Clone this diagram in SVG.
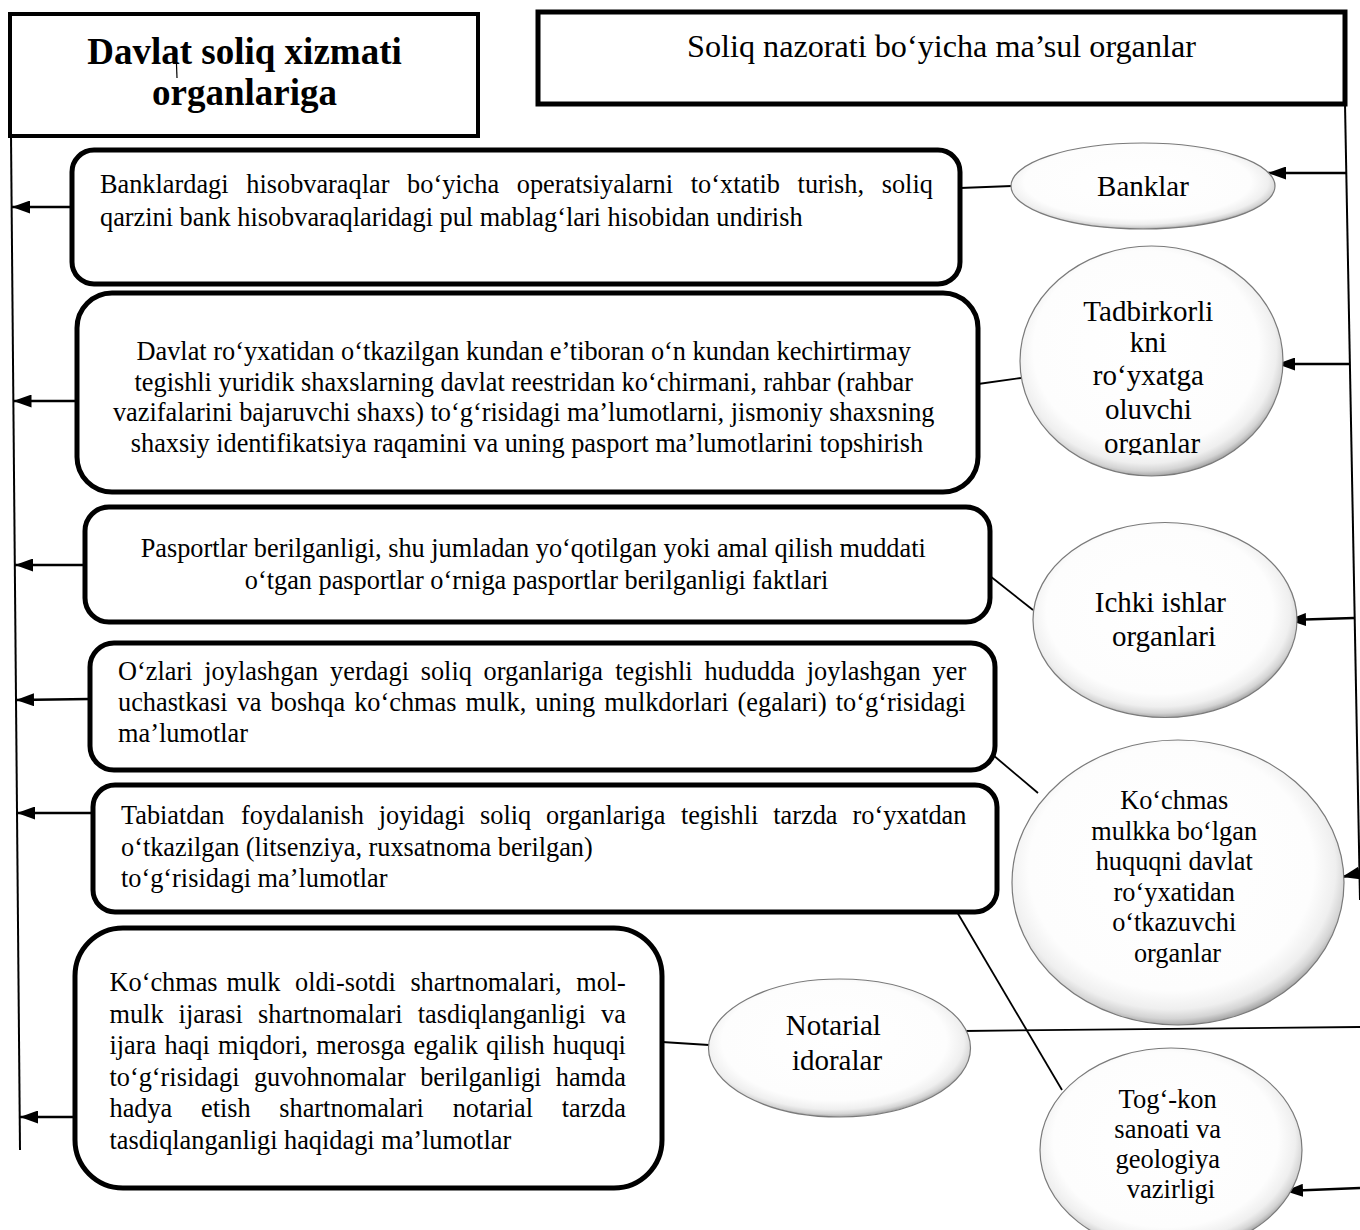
<svg xmlns="http://www.w3.org/2000/svg" width="1360" height="1230" viewBox="0 0 1360 1230">
<defs>
<style>
.t{font-family:"Liberation Serif","Times New Roman",serif;font-size:26.3px;fill:#000}
.e{font-size:29px}
.h{font-weight:bold;font-size:37px}
.box{fill:#fff;stroke:#000;stroke-width:5}
.tb{fill:#fff;stroke:#000}
.ell{fill:url(#eg);stroke:#7a7a7a;stroke-width:1.2}
.ln{stroke:#000;stroke-width:1.8;fill:none}
.ar{stroke:#000;stroke-width:2.5;fill:none;marker-end:url(#ah)}
</style>
<radialGradient id="eg" cx="48%" cy="45%" r="55%">
<stop offset="0" stop-color="#ffffff"/>
<stop offset="0.78" stop-color="#fdfdfd"/>
<stop offset="0.9" stop-color="#efefef"/>
<stop offset="0.96" stop-color="#d4d4d4"/>
<stop offset="1" stop-color="#a8a8a8"/>
</radialGradient>
<marker id="ah" markerUnits="userSpaceOnUse" markerWidth="18" markerHeight="13" refX="18" refY="6.5" orient="auto">
<path d="M0,0 L18,6.5 L0,13 z" fill="#000"/>
</marker>
<clipPath id="cTad"><rect x="1000" y="240" width="300" height="215"/></clipPath>
</defs>

<g id="connectors">
<line class="ln" x1="11" y1="136" x2="20" y2="1150" style="stroke-width:2"/>
<line class="ln" x1="1345" y1="104" x2="1360" y2="900" style="stroke-width:2"/>
<line class="ar" x1="72" y1="207" x2="12" y2="207"/>
<line class="ar" x1="77" y1="401" x2="13.5" y2="401"/>
<line class="ar" x1="85" y1="565" x2="15" y2="565"/>
<line class="ar" x1="90" y1="699" x2="16" y2="700"/>
<line class="ar" x1="93" y1="813" x2="17" y2="813"/>
<line class="ar" x1="75" y1="1117" x2="20" y2="1117"/>
<line class="ar" x1="1347" y1="173" x2="1268" y2="173"/>
<line class="ar" x1="1350" y1="364" x2="1277" y2="364"/>
<line class="ar" x1="1354" y1="618" x2="1288" y2="620"/>
<line class="ar" x1="1360" y1="873" x2="1342" y2="877"/>
<line class="ar" x1="1360" y1="1188" x2="1285" y2="1191"/>
<line class="ln" x1="960" y1="188" x2="1012" y2="186"/>
<line class="ln" x1="978" y1="384" x2="1021" y2="378"/>
<line class="ln" x1="990" y1="576" x2="1033" y2="610"/>
<line class="ln" x1="993" y1="755" x2="1038" y2="793"/>
<line class="ln" x1="957" y1="912" x2="1062" y2="1090"/>
<line class="ln" x1="662" y1="1042" x2="709" y2="1045"/>
<line class="ln" x1="964" y1="1031" x2="1360" y2="1027"/>
</g>

<g id="title-left">
<rect class="tb" x="10" y="14" width="468" height="122" style="stroke-width:4"/>
<text class="t h" x="244.5" y="64" text-anchor="middle">Davlat soliq xizmati</text>
<text class="t h" x="244.5" y="105" text-anchor="middle">organlariga</text>
<line x1="176" y1="51" x2="177" y2="78" stroke="#000" stroke-width="1.2"/>
</g>

<g id="title-right">
<rect class="tb" x="538" y="12" width="807" height="92" style="stroke-width:5"/>
<text class="t" style="font-size:32.2px" x="941.5" y="57" text-anchor="middle">Soliq nazorati bo‘yicha ma’sul organlar</text>
</g>

<g id="box1">
<rect class="box" x="72" y="150" width="888" height="134" rx="22"/>
<text class="t" y="193"><tspan x="100">Banklardagi</tspan><tspan x="246.3">hisobvaraqlar</tspan><tspan x="407.1">bo‘yicha</tspan><tspan x="516.8">operatsiyalarni</tspan><tspan x="690.8">to‘xtatib</tspan><tspan x="797.6">turish,</tspan><tspan x="881.7">soliq</tspan></text>
<text class="t" x="100" y="226">qarzini bank hisobvaraqlaridagi pul mablag‘lari hisobidan undirish</text>
</g>

<g id="box2">
<rect class="box" x="77" y="293" width="901" height="199" rx="35"/>
<text class="t" text-anchor="middle">
<tspan x="527" y="360">Davlat ro‘yxatidan o‘tkazilgan kundan e’tiboran o‘n kundan kechirtirmay</tspan>
<tspan x="527" y="390.5">tegishli yuridik shaxslarning davlat reestridan ko‘chirmani, rahbar (rahbar</tspan>
<tspan x="527" y="421">vazifalarini bajaruvchi shaxs) to‘g‘risidagi ma’lumotlarni, jismoniy shaxsning</tspan>
<tspan x="527" y="451.5">shaxsiy identifikatsiya raqamini va uning pasport ma’lumotlarini topshirish</tspan>
</text>
</g>

<g id="box3">
<rect class="box" x="85" y="507" width="905" height="115" rx="24"/>
<text class="t" text-anchor="middle">
<tspan x="536.5" y="557">Pasportlar berilganligi, shu jumladan yo‘qotilgan yoki amal qilish muddati</tspan>
<tspan x="536.5" y="589">o‘tgan pasportlar o‘rniga pasportlar berilganligi faktlari</tspan>
</text>
</g>

<g id="box4">
<rect class="box" x="90" y="643" width="905" height="127" rx="24"/>
<text class="t" y="680"><tspan x="118">O‘zlari</tspan><tspan x="204.3">joylashgan</tspan><tspan x="330.1">yerdagi</tspan><tspan x="420.7">soliq</tspan><tspan x="483.6">organlariga</tspan><tspan x="615.2">tegishli</tspan><tspan x="704.4">hududda</tspan><tspan x="806.8">joylashgan</tspan><tspan x="932.6">yer</tspan></text>
<text class="t" y="711"><tspan x="118">uchastkasi</tspan><tspan x="236.7">va</tspan><tspan x="270.6">boshqa</tspan><tspan x="354.2">ko‘chmas</tspan><tspan x="465.6">mulk,</tspan><tspan x="535.3">uning</tspan><tspan x="604.3">mulkdorlari</tspan><tspan x="737.6">(egalari)</tspan><tspan x="835.8">to‘g‘risidagi</tspan></text>
<text class="t" x="118" y="742">ma’lumotlar</text>
</g>

<g id="box5">
<rect class="box" x="93" y="785" width="904" height="127" rx="22"/>
<text class="t" y="824"><tspan x="121">Tabiatdan</tspan><tspan x="241.1">foydalanish</tspan><tspan x="378.8">joyidagi</tspan><tspan x="480">soliq</tspan><tspan x="546.1">organlariga</tspan><tspan x="680.9">tegishli</tspan><tspan x="773.3">tarzda</tspan><tspan x="852.5">ro‘yxatdan</tspan></text>
<text class="t" x="121" y="856">o‘tkazilgan (litsenziya, ruxsatnoma berilgan)</text>
<text class="t" x="121" y="887">to‘g‘risidagi ma’lumotlar</text>
</g>

<g id="box6">
<rect class="box" x="75" y="928" width="587" height="260" rx="48"/>
<text class="t" y="991"><tspan x="109.5">Ko‘chmas</tspan><tspan x="226.4">mulk</tspan><tspan x="295">oldi-sotdi</tspan><tspan x="410.4">shartnomalari,</tspan><tspan x="576.2">mol-</tspan></text>
<text class="t" y="1022.5"><tspan x="109.5">mulk</tspan><tspan x="178.6">ijarasi</tspan><tspan x="258">shartnomalari</tspan><tspan x="417.8">tasdiqlanganligi</tspan><tspan x="601.1">va</tspan></text>
<text class="t" y="1054"><tspan x="109.5">ijara</tspan><tspan x="164.5">haqi</tspan><tspan x="218">miqdori,</tspan><tspan x="316.2">merosga</tspan><tspan x="413.6">egalik</tspan><tspan x="486.1">qilish</tspan><tspan x="552.8">huquqi</tspan></text>
<text class="t" y="1085.5"><tspan x="109.5">to‘g‘risidagi</tspan><tspan x="253.9">guvohnomalar</tspan><tspan x="420.2">berilganligi</tspan><tspan x="555.8">hamda</tspan></text>
<text class="t" y="1117"><tspan x="109.5">hadya</tspan><tspan x="201">etish</tspan><tspan x="279.3">shartnomalari</tspan><tspan x="452.7">notarial</tspan><tspan x="561.7">tarzda</tspan></text>
<text class="t" x="109.5" y="1148.5">tasdiqlanganligi haqidagi ma’lumotlar</text>
</g>

<g id="banklar">
<ellipse class="ell" cx="1143" cy="186" rx="132" ry="43"/>
<text class="t e" x="1143" y="196" text-anchor="middle">Banklar</text>
</g>

<g id="tadbirkorlik">
<ellipse class="ell" cx="1151.5" cy="361" rx="131.5" ry="115"/>
<text class="t e" text-anchor="middle" clip-path="url(#cTad)">
<tspan x="1152" y="321">Tadbirkorli</tspan>
<tspan x="1152" y="352">kni</tspan>
<tspan x="1152" y="385">ro‘yxatga</tspan>
<tspan x="1152" y="419">oluvchi</tspan>
<tspan x="1152" y="453">organlar</tspan>
</text>
</g>

<g id="ichki">
<ellipse class="ell" cx="1165" cy="620" rx="132" ry="97.5"/>
<text class="t e" text-anchor="middle">
<tspan x="1164" y="612">Ichki ishlar</tspan>
<tspan x="1164" y="646">organlari</tspan>
</text>
</g>

<g id="kochmas">
<ellipse class="ell" cx="1178" cy="882.5" rx="166" ry="142.5"/>
<text class="t" text-anchor="middle">
<tspan x="1177.5" y="809">Ko‘chmas</tspan>
<tspan x="1177.5" y="840">mulkka bo‘lgan</tspan>
<tspan x="1177.5" y="870">huquqni davlat</tspan>
<tspan x="1177.5" y="901">ro‘yxatidan</tspan>
<tspan x="1177.5" y="931">o‘tkazuvchi</tspan>
<tspan x="1177.5" y="962">organlar</tspan>
</text>
</g>

<g id="notarial">
<ellipse class="ell" cx="839.5" cy="1048" rx="131" ry="69"/>
<text class="t e" text-anchor="middle">
<tspan x="837" y="1035">Notarial</tspan>
<tspan x="837" y="1070">idoralar</tspan>
</text>
</g>

<g id="togkon">
<ellipse class="ell" cx="1171" cy="1150" rx="131" ry="102"/>
<text class="t" style="font-size:26.5px" text-anchor="middle">
<tspan x="1171" y="1108">Tog‘-kon</tspan>
<tspan x="1171" y="1138">sanoati va</tspan>
<tspan x="1171" y="1168">geologiya</tspan>
<tspan x="1171" y="1198">vazirligi</tspan>
</text>
</g>
</svg>
